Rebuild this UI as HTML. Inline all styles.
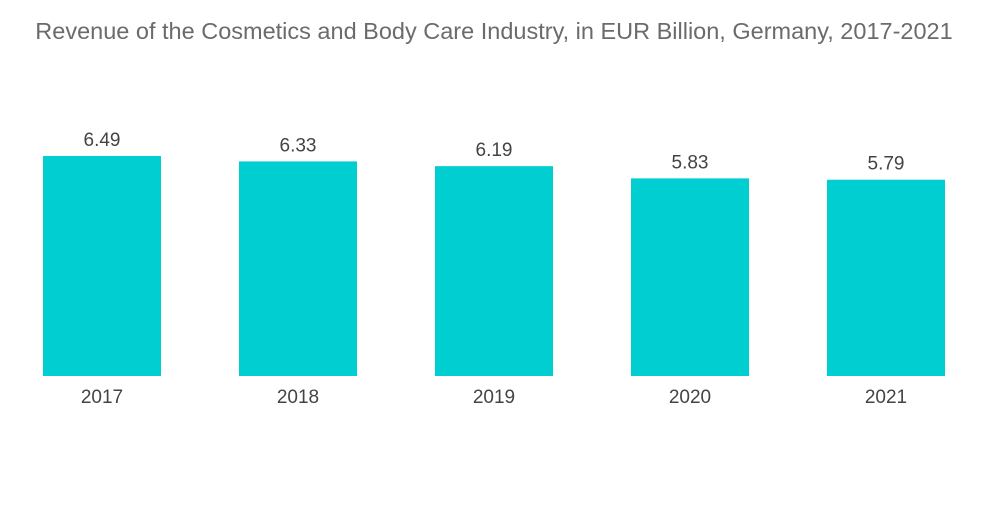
<!DOCTYPE html>
<html><head><meta charset="utf-8"><style>
body{margin:0;background:#fff;width:1000px;height:504px;overflow:hidden;font-family:"Liberation Sans",sans-serif}
</style></head><body>
<svg width="1000" height="504">
<text x="494" y="39" text-anchor="middle" font-size="23.5" fill="#6b6b6b">Revenue of the Cosmetics and Body Care Industry, in EUR Billion, Germany, 2017-2021</text>
<g id="bars"></g>
</svg>
<script>
const categories=["2017","2018","2019","2020","2021"];
const values=[6.49,6.33,6.19,5.83,5.79];
const labels=["6.49","6.33","6.19","5.83","5.79"];
const g=document.getElementById('bars');
const ns="http://www.w3.org/2000/svg";
const base=376,scale=33.9,left=43,step=196,bw=118;
function x(i){return left+i*step;}
function y(v){return base-v*scale;}
categories.forEach((c,i)=>{
 const r=document.createElementNS(ns,'rect');
 r.setAttribute('x',x(i));r.setAttribute('y',y(values[i]));
 r.setAttribute('width',bw);r.setAttribute('height',base-y(values[i]));
 r.setAttribute('fill','#00ced1');
 
 
 g.appendChild(r);
 const t=document.createElementNS(ns,'text');
 t.setAttribute('x',x(i)+bw/2);t.setAttribute('y',y(values[i])-10);
 t.setAttribute('text-anchor','middle');t.setAttribute('font-size','19');t.setAttribute('fill','#444');
 t.textContent=labels[i];
 
 
 g.appendChild(t);
 const l=document.createElementNS(ns,'text');
 l.setAttribute('x',x(i)+bw/2);l.setAttribute('y',403);
 l.setAttribute('text-anchor','middle');l.setAttribute('font-size','19');l.setAttribute('fill','#444');
 l.textContent=c;
 
 
 g.appendChild(l);
});
</script>
</body></html>
